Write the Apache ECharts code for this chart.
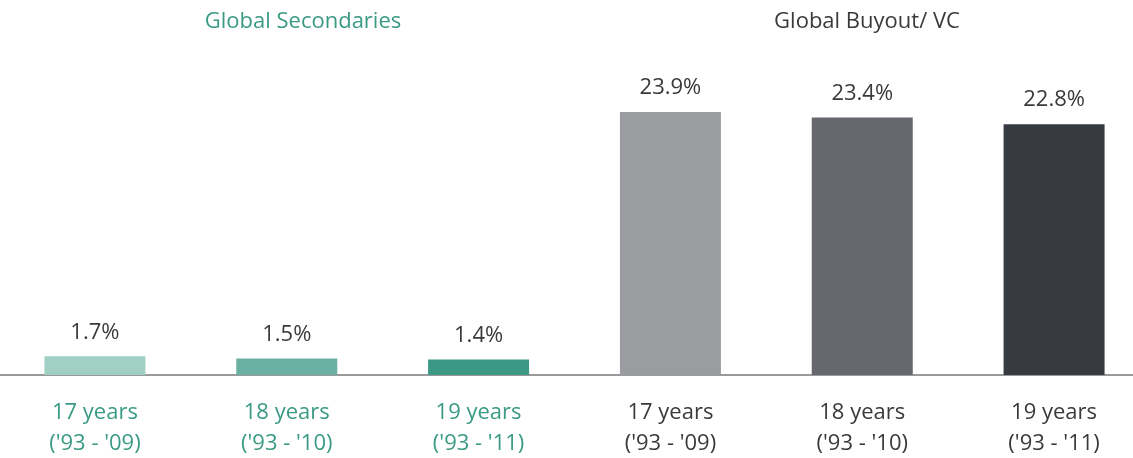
<!DOCTYPE html>
<html>
<head>
<meta charset="utf-8">
<script src="https://cdn.jsdelivr.net/npm/echarts@6/dist/echarts.min.js"></script>
<style>
html,body{margin:0;padding:0;background:#fff;}
#chart{width:1133px;height:458px;}
</style>
</head>
<body>
<div id="chart"></div>
<script>
/*----------data----------*/
var categories=["17 years\n('93 - '09)","18 years\n('93 - '10)","19 years\n('93 - '11)","17 years\n('93 - '09)","18 years\n('93 - '10)","19 years\n('93 - '11)"];
var returns=[1.7,1.5,1.4,23.9,23.4,22.8];
var groupTitles=["Global Secondaries","Global Buyout/ VC"];
/*----------style----------*/
var barColors=['#a0cfc4','#6ab0a2','#3a9884','#9b9ca0','#67686d','#383a42'];
var green='#3a9a84',dark='#3a3a3a';
var font='Open Sans';
/*----------chart----------*/
var chart=echarts.init(document.getElementById('chart'));
var option={
	animation:false,
	title:[
		{text:groupTitles[0],left:298,top:6,textAlign:'center',
			textStyle:{color:green,fontFamily:font,fontSize:22,fontWeight:'normal'}},
		{text:groupTitles[1],left:862,top:6,textAlign:'center',
			textStyle:{color:dark,fontFamily:font,fontSize:22,fontWeight:'normal'}}
	],
	grid:{left:-1,right:-17,top:45,bottom:83,outerBoundsMode:'none'},	//last column runs past the right edge
	xAxis:{
		type:'category',
		data:categories,
		axisLine:{show:true,lineStyle:{color:'#9a9a9a',width:2}},
		axisTick:{show:false},
		axisLabel:{
			margin:22,
			fontFamily:font,
			fontSize:22,
			lineHeight:31,
			interval:0,
			color:function(v,i){return i<3?green:dark;}
		}
	},
	yAxis:{type:'value',min:0,max:30,show:false,splitLine:{show:false}},
	series:[{
		type:'bar',
		barWidth:101,
		data:returns.map(function(v,i){
			return {value:v,itemStyle:{color:barColors[i]}};
		}),
		label:{
			show:true,
			position:'top',
			distance:13,
			fontFamily:font,
			fontSize:22,
			color:dark,
			formatter:function(p){return p.value.toFixed(1)+'%';}
		}
	}]
};
chart.setOption(option);
</script>
</body>
</html>
